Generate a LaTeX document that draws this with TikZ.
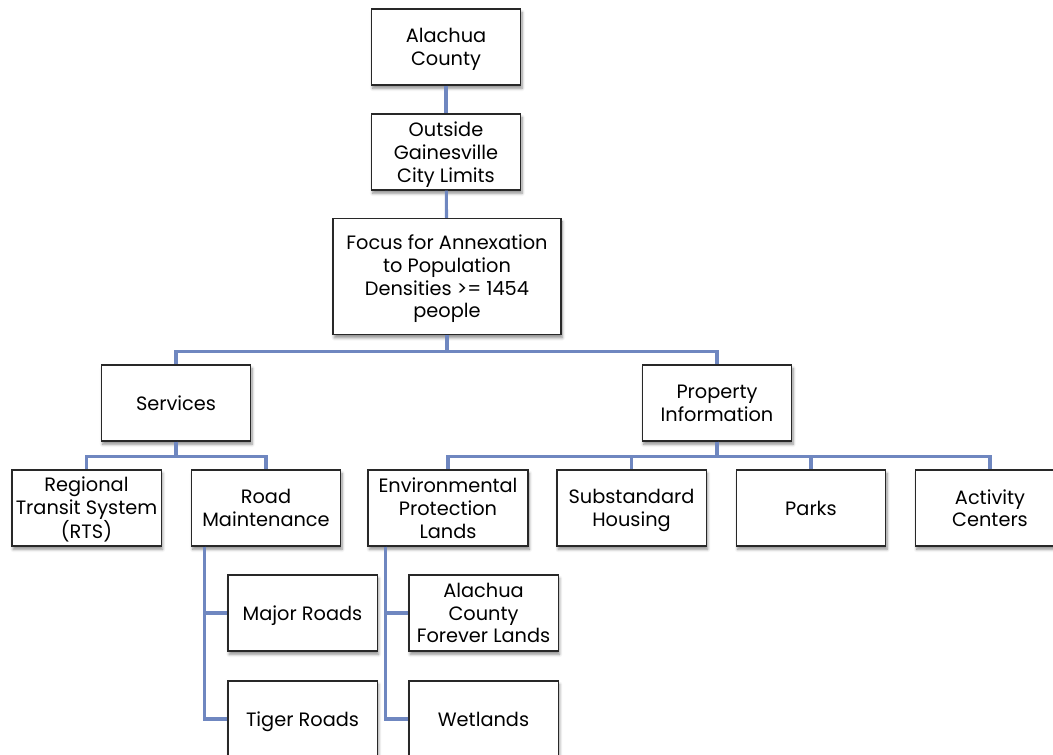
\documentclass[tikz,border=0pt]{standalone}
\usepackage{fontspec}
\setmainfont{Poppins}
\usepackage{tikz}
\usetikzlibrary{positioning, shadows.blur}
\definecolor{linkblue}{RGB}{111,135,192}
\definecolor{boxline}{RGB}{40,40,40}
\tikzset{%
  x=0.75pt, y=-0.75pt,
  box/.style={
    draw=boxline,
    line width=1pt,
    fill=white,
    align=center,
    inner sep=1pt,
    text depth=0pt,
    minimum width=112pt,
    minimum height=57pt,
    font=\fontsize{14.5}{17}\selectfont,
    blur shadow={shadow xshift=1pt, shadow yshift=-2.5pt,
                 shadow blur steps=6, shadow opacity=45}},
  link/.style={
    draw=linkblue,
    line width=2.3pt} %
}

\begin{document}
\begin{tikzpicture}
  \useasboundingbox (0,0) rectangle (1053,755);

  \begin{scope}[every node/.style={box}]
  \node (county)   at (446,47)    {Alachua\\County};
  \node (outside)  at (446,152)   {Outside\\Gainesville\\City Limits};
  \node[minimum width=171pt, minimum height=87pt]
        (focus)    at (447,276.5) {Focus for Annexation\\to Population\\Densities >= 1454\\people};

  \node (services) at (176,403)   {Services};
  \node (property) at (717,403)   {Property\\Information};

  \node (rts)      at (86.5,508)  {Regional\\Transit System\\(RTS)};
  \node (road)     at (266,508)   {Road\\Maintenance};
  \node[minimum width=120pt]
        (env)      at (448,508)   {Environmental\\Protection\\Lands};
  \node (housing)  at (631.5,508) {Substandard\\Housing};
  \node (parks)    at (811,508)   {Parks};
  \node (activity) at (990,508)   {Activity\\Centers};

  \node (major)    at (302.5,613) {Major Roads};
  \node (tiger)    at (302.5,719) {Tiger Roads};
  \node (forever)  at (483.5,613) {Alachua\\County\\Forever Lands};
  \node (wetlands) at (483.5,719) {Wetlands};
  \end{scope}

  % top column
  \draw[link] (county) -- (outside);
  \draw[link] (outside) -- (focus);

  % focus to its two branches
  \draw[link] (focus.south) -- ++(0,16) -| (services.north);
  \draw[link] (focus.south) -- ++(0,16) -| (property.north);

  % services branch
  \draw[link] (services.south) -- ++(0,15) -| (rts.north);
  \draw[link] (services.south) -- ++(0,15) -| (road.north);
  \draw[link] ([xshift=10.5pt]road.south west) |- (major.west);
  \draw[link] ([xshift=10.5pt]road.south west) |- (tiger.west);

  % property branch
  \foreach \n in {env, housing, parks, activity}
    \draw[link] (property.south) -- ++(0,15) -| (\n.north);
  \draw[link] ([xshift=13.9pt]env.south west) |- (forever.west);
  \draw[link] ([xshift=13.9pt]env.south west) |- (wetlands.west);
\end{tikzpicture}
\end{document}
